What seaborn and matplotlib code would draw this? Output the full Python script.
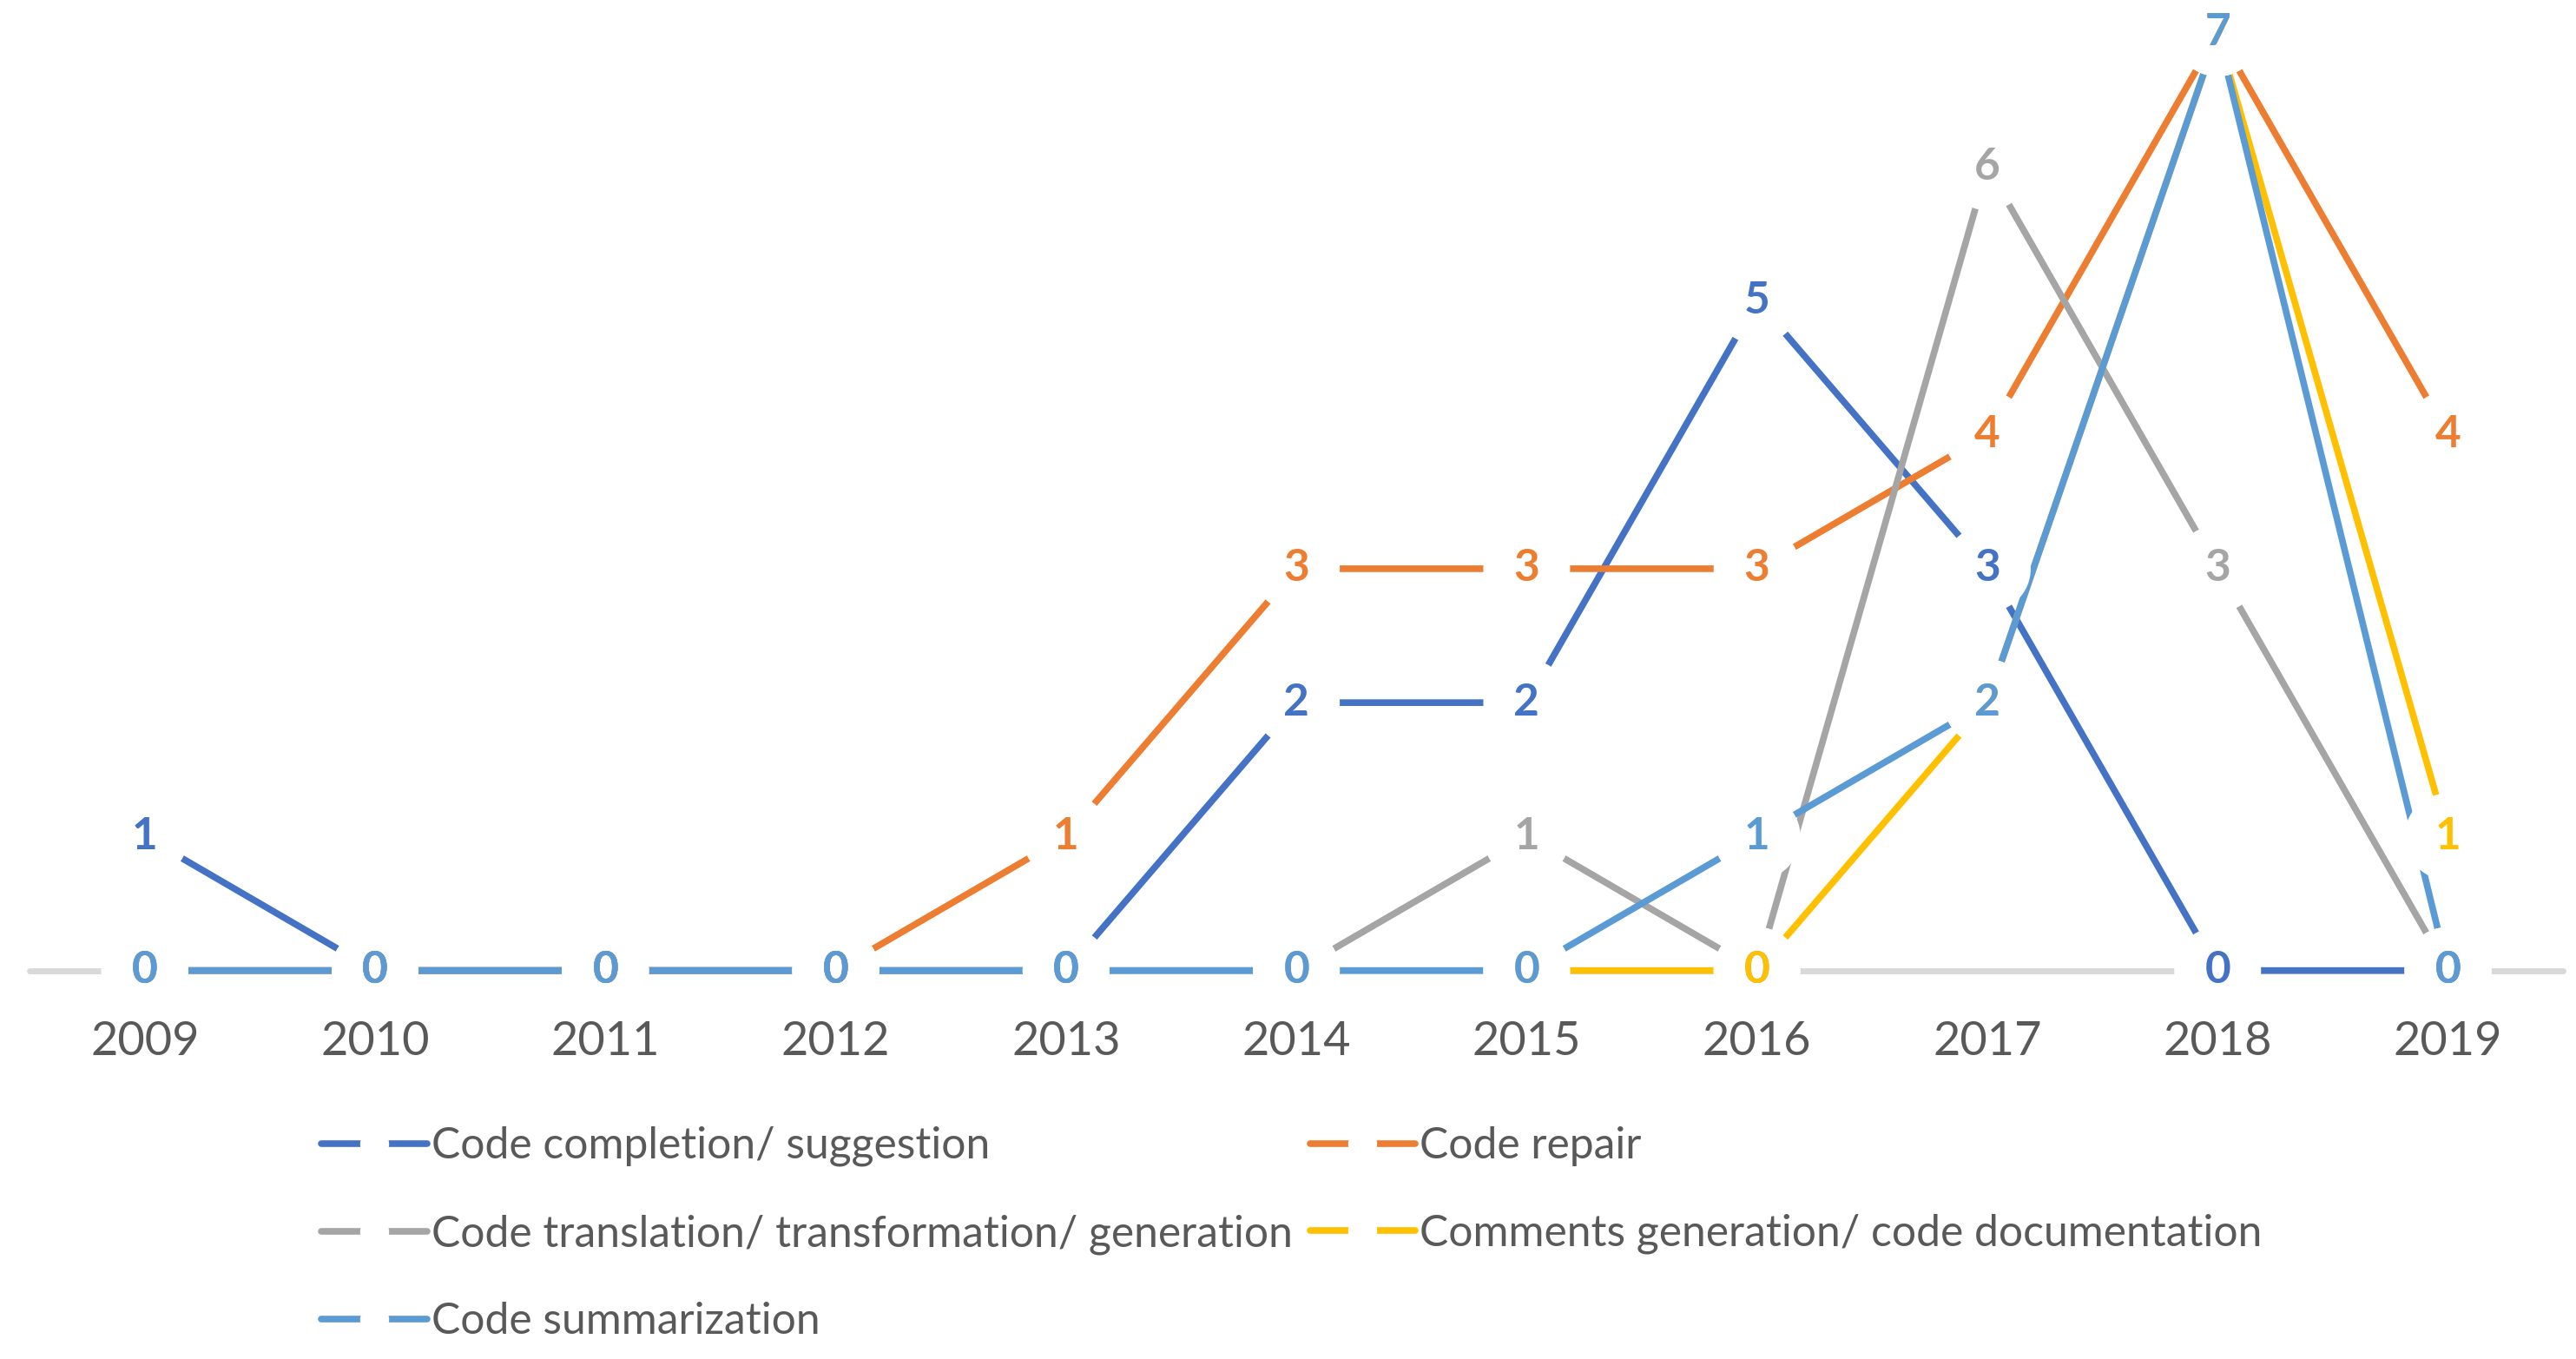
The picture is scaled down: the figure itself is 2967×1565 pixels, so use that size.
import numpy as np
import pandas as pd
import matplotlib
matplotlib.use("Agg")
import matplotlib.pyplot as plt
from matplotlib.lines import Line2D
import seaborn as sns

# data
years = ["2009", "2010", "2011", "2012", "2013", "2014", "2015", "2016", "2017", "2018", "2019"]
completion = [1, 0, 0, 0, 0, 2, 2, 5, 3, 0, 0]
repair = [0, 0, 0, 0, 1, 3, 3, 3, 4, 7, 4]
translation = [0, 0, 0, 0, 0, 0, 1, 0, 6, 3, 0]
comments = [np.nan, np.nan, np.nan, np.nan, np.nan, np.nan, 0, 0, 2, 7, 1]
summarization = [0, 0, 0, 0, 0, 0, 0, 1, 2, 7, 0]

series_names = ["Code completion/ suggestion", "Code repair",
                "Code translation/ transformation/ generation",
                "Comments generation/ code documentation", "Code summarization"]
series_vals = [completion, repair, translation, comments, summarization]
colors = ["#4472C4", "#ED7D31", "#A5A5A5", "#FFC000", "#5B9BD5"]

rows = []
for name, vals in zip(series_names, series_vals):
    for i, v in enumerate(vals):
        rows.append((name, i, v))
df = pd.DataFrame(rows, columns=["series", "idx", "count"])
df = df.dropna()

sns.set_style("white")
plt.rcParams["font.family"] = ["Lato", "DejaVu Sans"]

fig = plt.figure(figsize=(14.835, 7.825), dpi=200)
ax = fig.add_axes([0.0115, 0.276, 0.9835, 0.7096])

ax.axhline(0, color="#D9D9D9", lw=2.5, zorder=1)
sns.lineplot(data=df, x="idx", y="count", hue="series", hue_order=series_names,
             palette=colors, lw=2.75, ax=ax, legend=False, sort=False,
             estimator=None, zorder=2)
for line in ax.lines:
    line.set_clip_on(False)

# white discs under labels cut the lines like the excel markers
for name, c in zip(series_names, colors):
    d = df[df.series == name]
    ax.scatter(d.idx, d["count"], s=36 ** 2, color="white", edgecolor="none",
               zorder=3, clip_on=False)
for k, (name, c) in enumerate(zip(series_names, colors)):
    d = df[df.series == name]
    for x, y in zip(d.idx, d["count"]):
        ax.text(x, y, f"{int(y)}", color=c, ha="center", va="center",
                fontsize=18.5, fontweight="bold", zorder=4 + k)

ax.set_xlim(-0.5, len(years) - 0.5)
ax.set_ylim(-0.1, 7.1)
ax.set_xticks(range(len(years)))
ax.set_xticklabels(years)
ax.set_yticks([])
ax.tick_params(axis="x", length=0, pad=15, labelsize=19.5, labelcolor="#595959")
ax.set_xlabel("")
ax.set_ylabel("")
sns.despine(ax=ax, left=True, bottom=True)

handles = []
for c in colors:
    # three-point handle so the white marker sits in the middle
    h = Line2D([0, 0.5, 1], [0, 0, 0], color=c, lw=2.75, marker="o", markersize=11,
               markerfacecolor="white", markeredgecolor="white", markevery=[1])
    handles.append(h)
# legend fills by column, so reorder to read row by row like the original
order = [0, 2, 4, 1, 3]
leg = fig.legend([handles[i] for i in order], [series_names[i] for i in order],
                 ncol=2, loc="upper left", bbox_to_anchor=(0.118, 0.184),
                 frameon=False, fontsize=17.9, handlelength=2.45, handletextpad=0.1,
                 columnspacing=0.4, labelspacing=1.1, borderaxespad=0)
for t in leg.get_texts():
    t.set_color("#595959")

fig.savefig("out.png", dpi=200, facecolor="white")
